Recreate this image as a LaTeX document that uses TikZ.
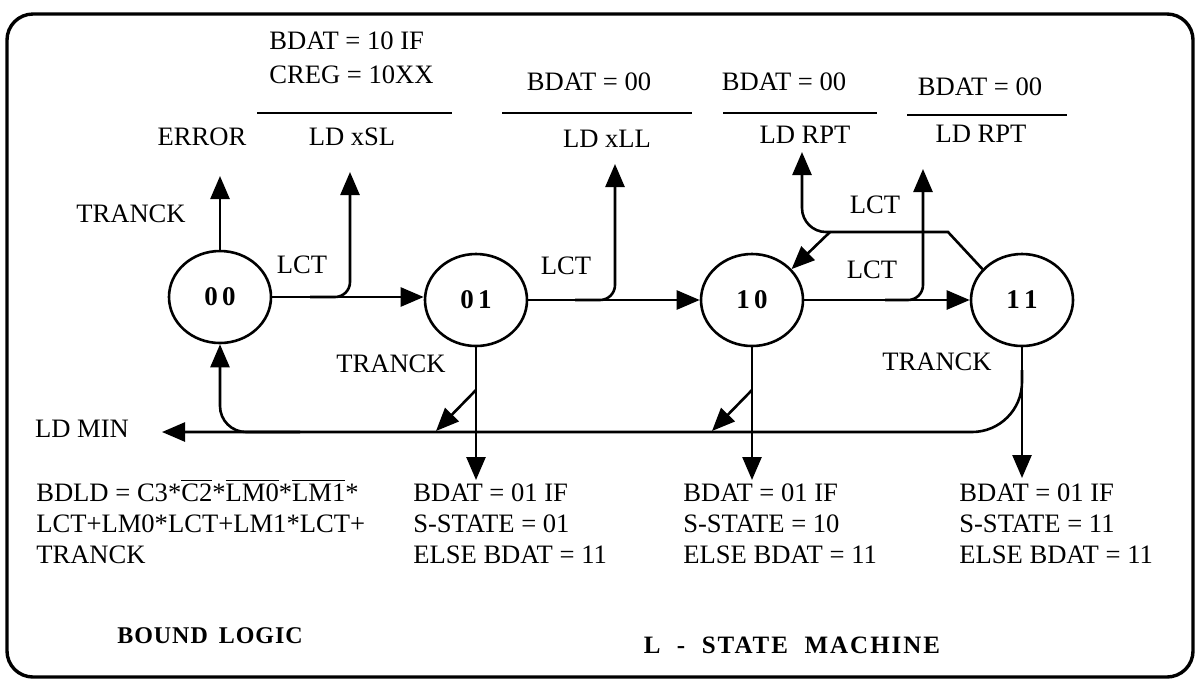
\documentclass[tikz,border=0pt]{standalone}
\usepackage{fontspec}
\setmainfont{Liberation Serif}
\usetikzlibrary{arrows.meta,shapes.geometric}
\newcommand{\ovl}[1]{$\overline{\mbox{#1}}$}
\begin{document}
\begin{tikzpicture}[x=0.5pt,y=-0.5pt,
  line width=1.3pt,
  state/.style={ellipse,draw,line width=1.3pt,minimum width=51pt,minimum height=46pt,inner sep=0pt,font=\fontsize{13.5}{15}\selectfont\bfseries},
  lbl/.style={font=\fontsize{13.3}{15.5}\selectfont,inner sep=0pt},
  ttl/.style={font=\fontsize{12}{14}\selectfont\bfseries,inner sep=0pt},
  arr/.style={-{Triangle[length=11.5pt,width=9.5pt]}},
  rulel/.style={line width=0.8pt}
]
\useasboundingbox (0,0) rectangle (1198,682);
\draw[line width=1.7pt,rounded corners=13pt] (7,14) rectangle (1193,677);

% states
\node[state] (s00) at (220,297) {0\,0};
\node[state] (s01) at (476,300) {0\,1};
\node[state] (s10) at (752,300) {1\,0};
\node[state] (s11) at (1022,300) {1\,1};

% top left
\node[lbl,anchor=base] (err) at (202,145) {ERROR};
\node[lbl,anchor=base] (tr0) at (131,222) {TRANCK};
\coordinate (errtip) at (220,176);
\draw[arr] (s00.north) -- (errtip);

\node[lbl,anchor=base west] (c1a) at (268,49) {BDAT = 10 IF};
\node[lbl,anchor=base west] (c1b) at (268,83) {CREG = 10XX};
\draw[rulel] (257,113) -- (452,113);
\node[lbl,anchor=base] (a1) at (352,145) {LD xSL};

\node[lbl,anchor=base] (c2) at (589,90) {BDAT = 00};
\draw[rulel] (502,113) -- (692,113);
\node[lbl,anchor=base] (a2) at (607,147) {LD xLL};

\node[lbl,anchor=base] (c3) at (784,90) {BDAT = 00};
\draw[rulel] (723,113) -- (877,113);
\node[lbl,anchor=base] (a3) at (805,143) {LD RPT};

\node[lbl,anchor=base] (c4) at (980,95) {BDAT = 00};
\draw[rulel] (907,115) -- (1067,115);
\node[lbl,anchor=base] (a4) at (981,142) {LD RPT};

% horizontal transitions
\draw[arr] (s00.east) -- (s00.east -| s01.west);
\coordinate (t1) at (350,172);
\draw[arr,rounded corners=7.5pt] (310,297) -| (t1);
\node[lbl,anchor=base] (l1) at (302,273) {LCT};

\draw[arr] (s01.east) -- (s10.west);
\coordinate (t2) at (615,164);
\draw[arr,rounded corners=7.5pt] (575,300) -| (t2);
\node[lbl,anchor=base] (l2) at (566,274) {LCT};

\draw[arr] (s10.east) -- (s11.west);
\coordinate (t3) at (923,169);
\draw[arr,rounded corners=7.5pt] (885,300) -| (t3);
\node[lbl,anchor=base] (l3) at (872,278) {LCT};

% 11 -> 10 / LD RPT
\coordinate (k1) at (948,232);
\coordinate (k2) at (830,232);
\coordinate (t4) at (802,152);
\draw (s11.142) -- (k1) -- (k2);
\draw[arr,rounded corners=12pt] (k2) -| (t4);
\draw[arr] (k2) -- (s10.38);
\node[lbl,anchor=base] (l4) at (875,213) {LCT};

% bottom
\coordinate (b01) at (476,480);
\coordinate (b10) at (752,480);
\coordinate (b11) at (1022,478);
\draw[arr] (s01.south) -- (b01);
\draw[arr] (s10.south) -- (b10);
\draw[arr] (s11.south) -- (b11);

\coordinate (ldmin) at (162,432);
\draw[arr,rounded corners=25pt] (1022,370) |- (ldmin);
\draw[arr,rounded corners=13pt] (300,432) -| (s00.south);
\draw[arr] (476,390) -- (436,431);
\draw[arr] (752,390) -- (712,431);

\node[lbl,anchor=base] (ldm) at (82,437) {LD MIN};
\node[lbl,anchor=base] (tr1) at (391,372) {TRANCK};
\node[lbl,anchor=base] (tr2) at (937,370) {TRANCK};

% bottom text blocks
\node[lbl,anchor=base west] (f1) at (35,501) {BDLD = C3*\ovl{C2}*\ovl{LM0}*\ovl{LM1}*};
\node[lbl,anchor=base west] (f2) at (35,532) {LCT+LM0*LCT+LM1*LCT+};
\node[lbl,anchor=base west] (f3) at (35,563) {TRANCK};

\node[lbl,anchor=base west] (p1) at (412,501) {BDAT = 01 IF};
\node[lbl,anchor=base west] (p2) at (412,532) {S-STATE = 01};
\node[lbl,anchor=base west] (p3) at (412,563) {ELSE BDAT = 11};

\node[lbl,anchor=base west] (q1) at (682,501) {BDAT = 01 IF};
\node[lbl,anchor=base west] (q2) at (682,532) {S-STATE = 10};
\node[lbl,anchor=base west] (q3) at (682,563) {ELSE BDAT = 11};

\node[lbl,anchor=base west] (r1) at (958,501) {BDAT = 01 IF};
\node[lbl,anchor=base west] (r2) at (958,532) {S-STATE = 11};
\node[lbl,anchor=base west] (r3) at (958,563) {ELSE BDAT = 11};

\node[ttl,anchor=base] (bl) at (210,643) {\addfontfeature{LetterSpace=4}BOUND\ \,LOGIC};
\node[ttl,anchor=base] (lsm) at (792,653) {\fontsize{12.5}{14}\selectfont\addfontfeature{LetterSpace=8}L\ \ -\ \ STATE\ \ MACHINE};
\end{tikzpicture}
\end{document}
